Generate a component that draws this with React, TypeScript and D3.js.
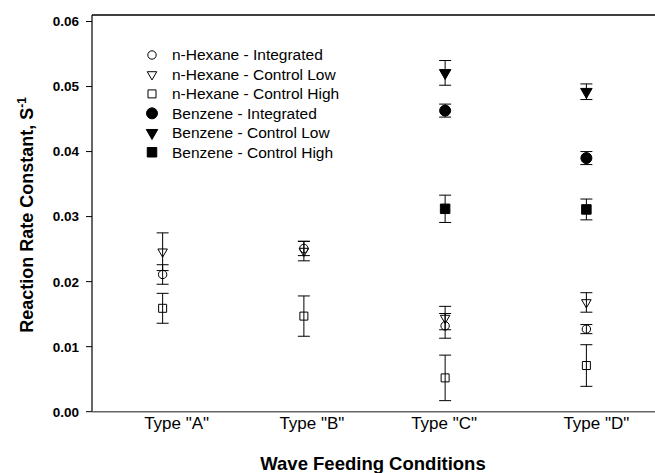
import React from "react";
import * as d3 from "d3";

const categories = ['Type "A"', 'Type "B"', 'Type "C"', 'Type "D"'];
const yTicks = [0, 0.01, 0.02, 0.03, 0.04, 0.05, 0.06];

const seriesNames = [
  "n-Hexane - Integrated",
  "n-Hexane - Control Low",
  "n-Hexane - Control High",
  "Benzene - Integrated",
  "Benzene - Control Low",
  "Benzene - Control High",
];
const seriesShapes = ["circle", "triangle", "square", "circle", "triangle", "square"];
const seriesFilled = [false, false, false, true, true, true];

// values per category (null = no data)
const hexIntegrated = [0.0211, 0.0251, 0.0132, 0.0127];
const hexIntegratedErr = [0.0015, 0.0011, 0.0019, 0.0007];
const hexLow = [0.0246, 0.0247, 0.0144, 0.0168];
const hexLowErr = [0.0029, 0.0015, 0.0018, 0.0015];
const hexHigh = [0.0159, 0.0147, 0.0052, 0.0071];
const hexHighErr = [0.0023, 0.0031, 0.0035, 0.0032];
const benzIntegrated = [null, null, 0.0463, 0.039];
const benzIntegratedErr = [null, null, 0.001, 0.001];
const benzLow = [null, null, 0.0521, 0.0492];
const benzLowErr = [null, null, 0.0019, 0.0012];
const benzHigh = [null, null, 0.0312, 0.0311];
const benzHighErr = [null, null, 0.0021, 0.0016];

const seriesValues = [hexIntegrated, hexLow, hexHigh, benzIntegrated, benzLow, benzHigh];
const seriesErrors = [hexIntegratedErr, hexLowErr, hexHighErr, benzIntegratedErr, benzLowErr, benzHighErr];

const W = 655;
const H = 473;
const left = 92;
const top = 15;
const bottom = 411.7;
const labelOffsets = [14, 8, -1, 10];
const FONT = "'Liberation Sans', Arial, Helvetica, sans-serif";

function symbolPath(shape: string, filled: boolean) {
  if (shape === "circle") {
    const r = filled ? 5.5 : 4.2;
    return d3.symbol().type(d3.symbolCircle).size(Math.PI * r * r)();
  }
  if (shape === "square") {
    const s = filled ? 9.5 : 8;
    return d3.symbol().type(d3.symbolSquare).size(s * s)();
  }
  const side = filled ? 11.5 : 9.5;
  return d3.symbol().type(d3.symbolTriangle).size((Math.sqrt(3) / 4) * side * side)();
}

export default function App() {
  const x = d3.scaleLinear().domain([0.5, 4.5]).range([left, 657]);
  const y = d3.scaleLinear().domain([0, 0.061]).range([bottom, top]);

  const marks: React.ReactNode[] = [];
  seriesValues.forEach((vals, si) => {
    vals.forEach((v, ci) => {
      if (v == null) return;
      const e = seriesErrors[si][ci] as number;
      const cx = x(ci + 1);
      const y1 = y(v + e);
      const y2 = y(v - e);
      marks.push(
        <g key={`e${si}-${ci}`} stroke="#000" strokeWidth={1}>
          <line x1={cx} x2={cx} y1={y1} y2={y2} />
          <line x1={cx - 6} x2={cx + 6} y1={y1} y2={y1} />
          <line x1={cx - 6} x2={cx + 6} y1={y2} y2={y2} />
        </g>
      );
    });
  });
  seriesValues.forEach((vals, si) => {
    vals.forEach((v, ci) => {
      if (v == null) return;
      const cx = x(ci + 1);
      const cy = y(v);
      const shape = seriesShapes[si];
      const filled = seriesFilled[si];
      marks.push(
        <path
          key={`m${si}-${ci}`}
          d={symbolPath(shape, filled) as string}
          transform={`translate(${cx},${cy})${shape === "triangle" ? " rotate(180)" : ""}`}
          fill={filled ? "#000" : "none"}
          stroke="#000"
          strokeWidth={1}
        />
      );
    });
  });

  return (
    <svg
      width={W}
      height={H}
      style={{ position: "absolute", left: 0, top: 0, display: "block", background: "#fff" }}
      fontFamily={FONT}
    >
      <rect x={0} y={0} width={W} height={H} fill="#fff" />
      {/* frame */}
      <line x1={left} x2={W} y1={top} y2={top} stroke="#000" strokeWidth={1.5} />
      <line x1={left} x2={left} y1={top} y2={bottom} stroke="#000" strokeWidth={1.2} />
      <line x1={left} x2={W} y1={bottom} y2={bottom} stroke="#666" strokeWidth={1.6} />

      {/* y ticks */}
      {yTicks.map((t) => (
        <g key={t} transform={`translate(0,${y(t)})`}>
          <line x1={left - 6} x2={left} stroke="#000" strokeWidth={1} />
          <text x={left - 13} dy="0.36em" textAnchor="end" fontSize={13.5} fontWeight="bold">
            {d3.format(".2f")(t)}
          </text>
        </g>
      ))}

      {/* category labels */}
      {categories.map((c, i) => (
        <text key={c} x={x(i + 1) + labelOffsets[i]} y={429} textAnchor="middle" fontSize={17}>
          {c}
        </text>
      ))}

      {/* axis titles */}
      <text x={373} y={470} textAnchor="middle" fontSize={18.5} fontWeight="bold">
        Wave Feeding Conditions
      </text>
      <text transform="translate(33,215) rotate(-90)" textAnchor="middle" fontSize={18} fontWeight="bold">
        Reaction Rate Constant, S
        <tspan fontSize={12} dy={-7}>-1</tspan>
      </text>

      {marks}

      {/* legend */}
      {seriesNames.map((n, i) => {
        const ly = 55 + i * 19.45;
        const shape = seriesShapes[i];
        const filled = seriesFilled[i];
        return (
          <g key={n}>
            <path
              d={symbolPath(shape, filled) as string}
              transform={`translate(152,${ly})${shape === "triangle" ? " rotate(180)" : ""}`}
              fill={filled ? "#000" : "none"}
              stroke="#000"
              strokeWidth={1}
            />
            <text x={172} y={ly} dy="0.35em" fontSize={15.5}>
              {n}
            </text>
          </g>
        );
      })}
    </svg>
  );
}
